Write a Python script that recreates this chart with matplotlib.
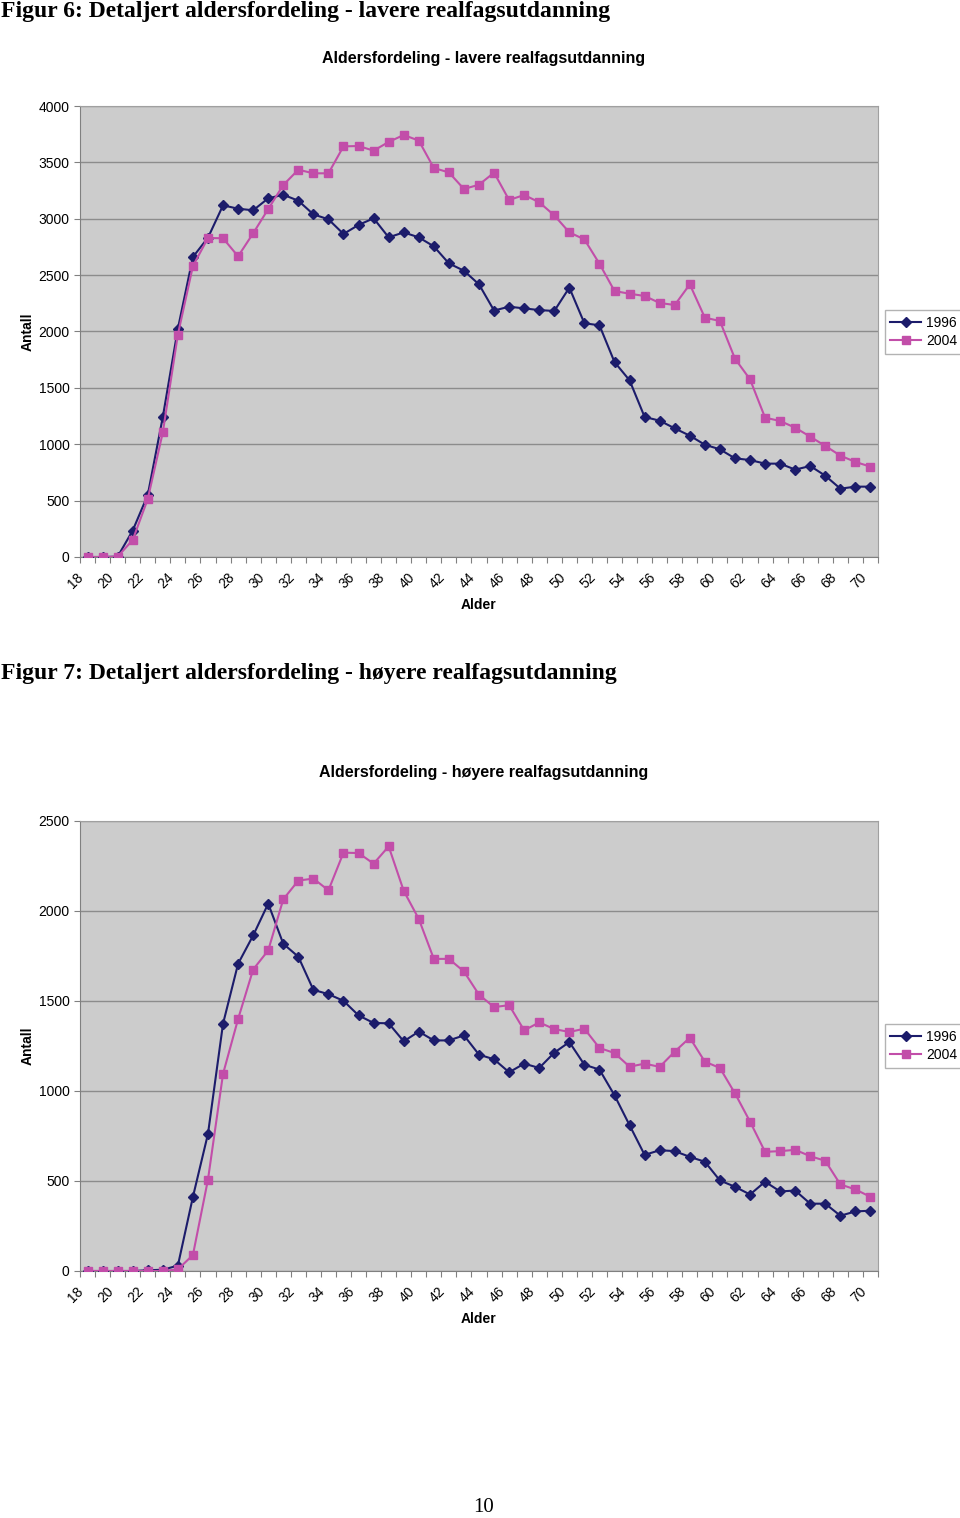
# Aldersfordeling - lavere og høyere realfagsutdanning (1996 vs 2004)
import matplotlib.pyplot as plt
import matplotlib.transforms as mtransforms
import numpy as np

ages = list(range(18, 71))

# Figur 6: lavere realfagsutdanning
lav_1996 = [0, 0, 3, 235, 550, 1242, 2025, 2661, 2832, 3119, 3089, 3075, 3181,
            3213, 3160, 3039, 2995, 2865, 2945, 3004, 2835, 2879, 2835, 2755,
            2604, 2539, 2418, 2186, 2220, 2205, 2190, 2182, 2389, 2073, 2055,
            1729, 1567, 1242, 1209, 1141, 1076, 996, 955, 875, 860, 828, 828,
            775, 807, 721, 606, 624, 624]
lav_2004 = [0, 0, 3, 151, 514, 1106, 1972, 2581, 2829, 2827, 2667, 2871, 3086,
            3299, 3435, 3403, 3403, 3642, 3645, 3604, 3681, 3743, 3693, 3450,
            3411, 3264, 3302, 3409, 3166, 3211, 3146, 3030, 2879, 2817, 2601,
            2359, 2335, 2315, 2253, 2235, 2418, 2123, 2093, 1759, 1576, 1236,
            1206, 1147, 1067, 985, 899, 843, 801]

# Figur 7: høyere realfagsutdanning
hoy_1996 = [0, 0, 0, 0, 4, 7, 30, 412, 762, 1374, 1707, 1864, 2041, 1818, 1746,
            1562, 1538, 1501, 1420, 1378, 1376, 1276, 1330, 1281, 1281, 1309,
            1202, 1176, 1104, 1152, 1128, 1213, 1272, 1146, 1119, 976, 810, 645,
            671, 666, 634, 607, 503, 468, 425, 496, 442, 447, 374, 374, 307,
            331, 335]
hoy_2004 = [0, 0, 0, 0, 0, 0, 9, 89, 508, 1095, 1400, 1675, 1781, 2065, 2169,
            2180, 2115, 2324, 2322, 2263, 2359, 2112, 1956, 1734, 1734, 1664,
            1535, 1466, 1477, 1337, 1381, 1344, 1328, 1346, 1239, 1211, 1135,
            1152, 1134, 1219, 1296, 1163, 1128, 987, 830, 662, 666, 673, 638,
            612, 481, 453, 412]

series_labels = ["1996", "2004"]
c1996 = "#1c1c6b"
c2004 = "#c24ea9"

W, H = 960, 1518
fig = plt.figure(figsize=(W / 100, H / 100), dpi=100)
plt.rcParams['font.family'] = ['Liberation Sans', 'DejaVu Sans']


def px_axes(left, top, right, bottom):
    return fig.add_axes([left / W, 1 - bottom / H, (right - left) / W, (bottom - top) / H])


def draw_chart(ax, y96, y04, ymax, ystep, title, title_y, leg_y):
    x = np.arange(len(ages))
    ax.set_facecolor("#cccccc")
    ax.plot(x, y96, color=c1996, marker="D", markersize=5, lw=1.5, label=series_labels[0], zorder=3)
    ax.plot(x, y04, color=c2004, marker="s", markersize=6, lw=1.5, label=series_labels[1], zorder=3)
    ax.set_xlim(-0.5, len(ages) - 0.5)
    ax.set_ylim(0, ymax)
    ax.set_yticks(np.arange(0, ymax + 1, ystep))
    ax.yaxis.grid(True, color="#8c8c8c", lw=1)
    ax.set_axisbelow(True)
    # tick-streker mellom kategoriene, etiketter for hvert annet år
    ax.set_xticks(np.arange(-0.5, len(ages), 1))
    ax.set_xticklabels([])
    ax.tick_params(axis="x", length=4, color="#808080")
    trans = mtransforms.blended_transform_factory(ax.transData, ax.transAxes) + \
        mtransforms.ScaledTranslation(-11 / 100, -13 / 100, fig.dpi_scale_trans)
    for i in x[::2]:
        ax.text(i, 0, str(ages[i]), transform=trans, rotation=45, ha="right", va="top",
                rotation_mode="anchor", fontsize=10)
    ax.tick_params(axis="y", labelsize=10, length=4, color="#808080")
    for s in ["top", "right"]:
        ax.spines[s].set_color("#a0a0a0")
    for s in ["left", "bottom"]:
        ax.spines[s].set_color("#808080")
    ax.set_xlabel("Alder", fontsize=10, fontweight="bold", labelpad=22)
    ax.set_ylabel("Antall", fontsize=10, fontweight="bold", labelpad=3)
    fig.text(484 / W, 1 - title_y / H, title, fontsize=11.5, fontweight="bold",
             ha="center", va="center")
    leg = ax.legend(loc="center", bbox_to_anchor=(924 / W, 1 - leg_y / H),
                    bbox_transform=fig.transFigure, fontsize=10,
                    frameon=True, fancybox=False, edgecolor="#a0a0a0",
                    handlelength=2.2, borderpad=0.4, labelspacing=0.3, handletextpad=0.4)
    leg.get_frame().set_linewidth(1)


ax1 = px_axes(80, 106, 878, 557)
draw_chart(ax1, lav_1996, lav_2004, 4000, 500,
           "Aldersfordeling - lavere realfagsutdanning", 59, 332)

ax2 = px_axes(80, 821, 878, 1271)
draw_chart(ax2, hoy_1996, hoy_2004, 2500, 500,
           "Aldersfordeling - høyere realfagsutdanning", 773, 1046)

serif = ['Liberation Serif', 'DejaVu Serif']
fig.text(1 / W, 1 - 11 / H, "Figur 6: Detaljert aldersfordeling - lavere realfagsutdanning",
         family=serif, fontsize=17, fontweight="bold", ha="left", va="center")
fig.text(1 / W, 1 - 673 / H, "Figur 7: Detaljert aldersfordeling - høyere realfagsutdanning",
         family=serif, fontsize=17, fontweight="bold", ha="left", va="center")
fig.text(484 / W, 1 - 1508 / H, "10", family=serif, fontsize=15, ha="center", va="center")

fig.savefig("out.png", dpi=100)
